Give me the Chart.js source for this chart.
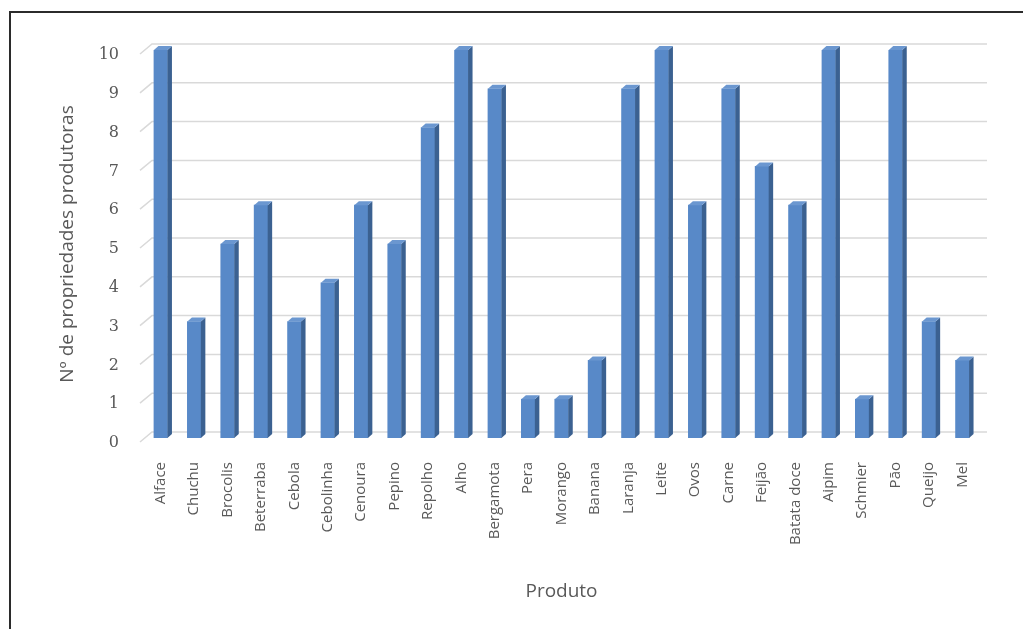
<!DOCTYPE html>
<html>
<head>
<meta charset="utf-8">
<script src="https://cdn.jsdelivr.net/npm/chart.js@4"></script>
<style>
  html, body { margin: 0; padding: 0; background: #fff; overflow: hidden; }
  #wrap { position: relative; width: 1023px; height: 629px; }
  #frame { position: absolute; left: 9px; top: 11px; right: -10px; bottom: -10px; border-left: 2px solid #2b2b2b; border-top: 2px solid #2b2b2b; pointer-events: none; }
  canvas { position: absolute; left: 0; top: 0; }
</style>
</head>
<body>
<div id="wrap">
  <canvas id="chart" width="1023" height="629"></canvas>
  <div id="frame"></div>
</div>
<script>
const produtos = ['Alface', 'Chuchu', 'Brocolis', 'Beterraba', 'Cebola', 'Cebolinha', 'Cenoura', 'Pepino',
    'Repolho', 'Alho', 'Bergamota', 'Pera', 'Morango', 'Banana', 'Laranja', 'Leite', 'Ovos', 'Carne',
    'Feijão', 'Batata doce', 'Aipim', 'Schmier', 'Pão', 'Queijo', 'Mel'];
const propriedades = [10, 3, 5, 6, 3, 4, 6, 5, 8, 10, 9, 1, 1, 2, 9, 10, 6, 9, 7, 6, 10, 1, 10, 3, 2];
const yTicks = [0, 1, 2, 3, 4, 5, 6, 7, 8, 9, 10];

const textColor = '#595959';

// back-wall gridlines with the little perspective step on the left
const wallGrid = {
    id: 'wallGrid',
    beforeDatasetsDraw(chart) {
        const { ctx, chartArea, scales: { y } } = chart;
        ctx.save();
        ctx.strokeStyle = '#d9d9d9';
        ctx.lineWidth = 1.5;
        yTicks.forEach(v => {
            const py = y.getPixelForValue(v);
            ctx.beginPath();
            ctx.moveTo(chartArea.left - 4, py + 4);
            ctx.lineTo(chartArea.left + 8, py - 6);
            ctx.lineTo(987, py - 6);
            ctx.stroke();
        });
        ctx.restore();
    }
};

// side and top faces for the 3D look
const barDepth = {
    id: 'barDepth',
    afterDatasetsDraw(chart) {
        const { ctx } = chart;
        const d = 4.5, dy = 4;
        ctx.save();
        chart.getDatasetMeta(0).data.forEach(bar => {
            const { x, y, base, width } = bar.getProps(['x', 'y', 'base', 'width'], true);
            const l = x - width / 2, r = x + width / 2;
            ctx.fillStyle = '#3b6191';
            ctx.beginPath();
            ctx.moveTo(r, y);
            ctx.lineTo(r + d, y - dy);
            ctx.lineTo(r + d, base - dy);
            ctx.lineTo(r, base);
            ctx.closePath();
            ctx.fill();
            ctx.fillStyle = '#6b97d0';
            ctx.beginPath();
            ctx.moveTo(l, y);
            ctx.lineTo(l + d, y - dy);
            ctx.lineTo(r + d, y - dy);
            ctx.lineTo(r, y);
            ctx.closePath();
            ctx.fill();
        });
        ctx.restore();
    }
};

new Chart(document.getElementById('chart'), {
    type: 'bar',
    data: {
        labels: produtos,
        datasets: [{
            label: 'Nº de propriedades produtoras',
            data: propriedades,
            backgroundColor: '#5889c8',
            barThickness: 13.5
        }]
    },
    options: {
        responsive: false,
        animation: false,
        layout: { padding: { left: 54, right: 44, top: 50, bottom: 26 } },
        plugins: { legend: { display: false }, tooltip: { enabled: false } },
        scales: {
            x: {
                grid: { display: false, drawTicks: false },
                border: { display: false },
                ticks: {
                    color: textColor,
                    font: { family: 'Open Sans', size: 15 },
                    minRotation: 90,
                    maxRotation: 90,
                    padding: 24,
                    autoSkip: false
                },
                title: {
                    display: true,
                    text: 'Produto',
                    color: textColor,
                    font: { family: 'Open Sans', size: 19 },
                    padding: 0
                },
                afterFit(scale) { scale.height = 629 - 26 - 50 - 388; }
            },
            y: {
                min: 0,
                max: 10,
                grid: { display: false, drawTicks: false },
                border: { display: false },
                ticks: {
                    stepSize: 1,
                    color: textColor,
                    font: { family: 'DejaVu Serif', size: 16 },
                    padding: 25,
                    labelOffset: 5
                },
                title: {
                    display: true,
                    text: 'Nº de propriedades produtoras',
                    color: textColor,
                    font: { family: 'Open Sans', size: 19 },
                    padding: { top: 2, bottom: 0 }
                },
                afterFit(scale) { scale.width = 90; }
            }
        }
    },
    plugins: [wallGrid, barDepth]
});
</script>
</body>
</html>
